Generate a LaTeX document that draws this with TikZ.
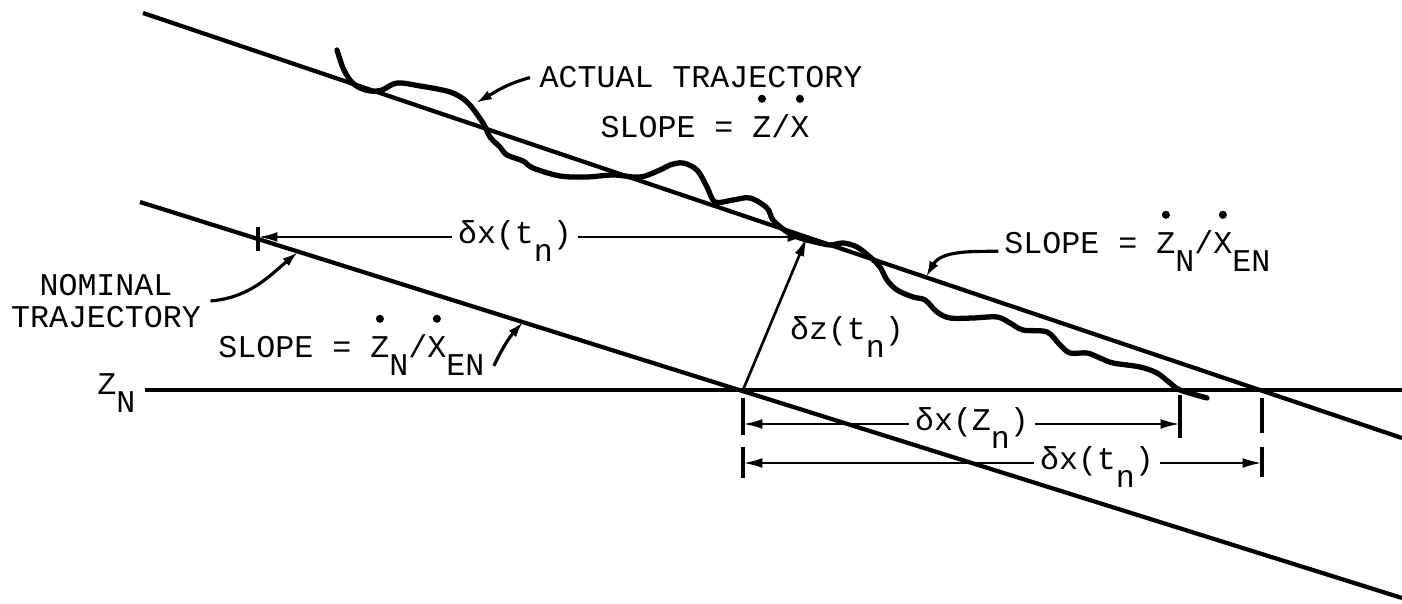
\documentclass[tikz,border=0pt]{standalone}
\usepackage{fontspec}
\setmainfont{Liberation Mono}
\usetikzlibrary{arrows.meta}
% typewriter style subscript and overdot
\newcommand{\lowr}[1]{\raisebox{-5pt}{#1}}
\newcommand{\dotup}[1]{{\ooalign{#1\cr\hidewidth\raisebox{10pt}{\tikz\fill (0,0) circle (1.15pt);}\hidewidth\cr}}}
\tikzset{
  trajline/.style={line width=1.2pt},
  wavyline/.style={line width=1.5pt,line join=round,line cap=round},
  refline/.style={line width=0.9pt},
  dimline/.style={line width=0.75pt,-{Latex[length=5.5pt,width=2.8pt]}},
  tickline/.style={line width=0.9pt},
  callout/.style={line width=0.9pt,-{Latex[length=4.5pt,width=2.8pt]}},
  lbl/.style={inner sep=0.5pt,font=\fontsize{9pt}{9.1pt}\selectfont}
}
\begin{document}
\begin{tikzpicture}[x=0.01cm,y=-0.01cm]
\useasboundingbox (0,0) rectangle (1402,604);
% points
\coordinate (aS) at (143,13);   \coordinate (aE) at (1402,438);
\coordinate (nS) at (140,202);  \coordinate (nE) at (1402,598);
\coordinate (zE) at (1402,390);
\coordinate (P) at (807,237);   \coordinate (F) at (743,390);
\coordinate (W) at (1180,390);  \coordinate (U) at (1262,390);
\coordinate (tA) at (258,237);
\coordinate (r1L) at (743,424); \coordinate (r1R) at (1180,424);
\coordinate (r2L) at (743,463); \coordinate (r2R) at (1262,463);
\coordinate (actTip) at (476,103); \coordinate (slRTip) at (926,277);
\coordinate (slLTip) at (523,322); \coordinate (nomTip) at (298,252);

% trajectories
\draw[trajline] (aS) -- (aE);
\draw[trajline] (nS) -- (nE);
\node[lbl,anchor=base west] (zn) at (95,395) {Z\lowr{N}};
\draw[refline] ([xshift=2pt]zn.east |- zE) -- (zE);
\draw[wavyline] plot[smooth,tension=0.55] coordinates {
  (337,50) (343,68) (350,80) (358,87) (370,91) (382,90) (397,83) (420,86)
  (450,92) (467,102) (483,123) (490,137) (500,147) (507,155) (523,161)
  (533,168) (560,176) (587,177) (613,175) (640,177) (660,170) (670,165)
  (683,163) (697,170) (707,187) (715,202) (733,200) (750,198) (767,208)
  (773,220) (787,232) (800,238) (815,242) (830,245) (843,243) (857,247)
  (870,257) (880,267) (887,280) (897,290) (913,297) (925,300) (937,312)
  (950,318) (973,318) (997,317) (1010,323) (1023,330) (1047,332) (1060,345)
  (1070,353) (1087,353) (1100,358) (1113,363) (1140,367) (1157,373)
  (1170,383) (1180,390) (1207,398)};

% labels
\node[lbl,anchor=base] (act) at (701,88) {ACTUAL TRAJECTORY};
\node[lbl,anchor=base] (slA) at (705,138) {SLOPE = \dotup{Z}/\dotup{X}};
\node[lbl,anchor=base west] (slR) at (1002,254)
  {SLOPE = \dotup{Z}\lowr{N}/\dotup{X}\lowr{EN}};
\node[lbl,anchor=base west] (slL) at (216,358)
  {SLOPE = \dotup{Z}\lowr{N}/\dotup{X}\lowr{EN}};
\node[lbl,align=center] (nom) at (106,301) {NOMINAL\\TRAJECTORY};
\node[lbl,anchor=base] (dxt) at (515,244) {δx(t\lowr{n})};
\node[lbl,anchor=base] (dzt) at (847,340) {δz(t\lowr{n})};
\node[lbl,anchor=base] (dxz) at (972,431) {δx(Z\lowr{n})};
\node[lbl,anchor=base] (dxb) at (1097,470) {δx(t\lowr{n})};

% callouts
\draw[callout] ([xshift=-2pt]act.west) to[out=195,in=30] (actTip);
\draw[callout] ([xshift=-1pt]slR.west) to[out=180,in=60] (slRTip);
\draw[callout] ([xshift=2pt,yshift=-3pt]slL.east) to[bend left=8] (slLTip);
\draw[callout] ([xshift=2pt]nom.east) to[out=5,in=220] (nomTip);

% dimensions
\draw[dimline] ([xshift=-1pt]dxt.west |- tA) -- (tA);
\draw[dimline] ([xshift=1pt]dxt.east |- P) -- (P);
\draw[tickline] (tA) ++(0,-10) -- ++(0,24);
\draw[dimline] (F) -- (P);
\draw[dimline] ([xshift=-1pt]dxz.west |- r1L) -- (r1L);
\draw[dimline] ([xshift=1pt]dxz.east |- r1R) -- (r1R);
\draw[dimline] ([xshift=-1pt]dxb.west |- r2L) -- (r2L);
\draw[dimline] ([xshift=1pt]dxb.east |- r2R) -- (r2R);
\draw[tickline] (F) ++(0,8) -- ++(0,37) ++(0,12) -- ++(0,31);
\draw[tickline] (W) ++(0,5) -- ++(0,43);
\draw[tickline] (U) ++(0,8) -- ++(0,35) ++(0,14) -- ++(0,30);
\end{tikzpicture}
\end{document}
